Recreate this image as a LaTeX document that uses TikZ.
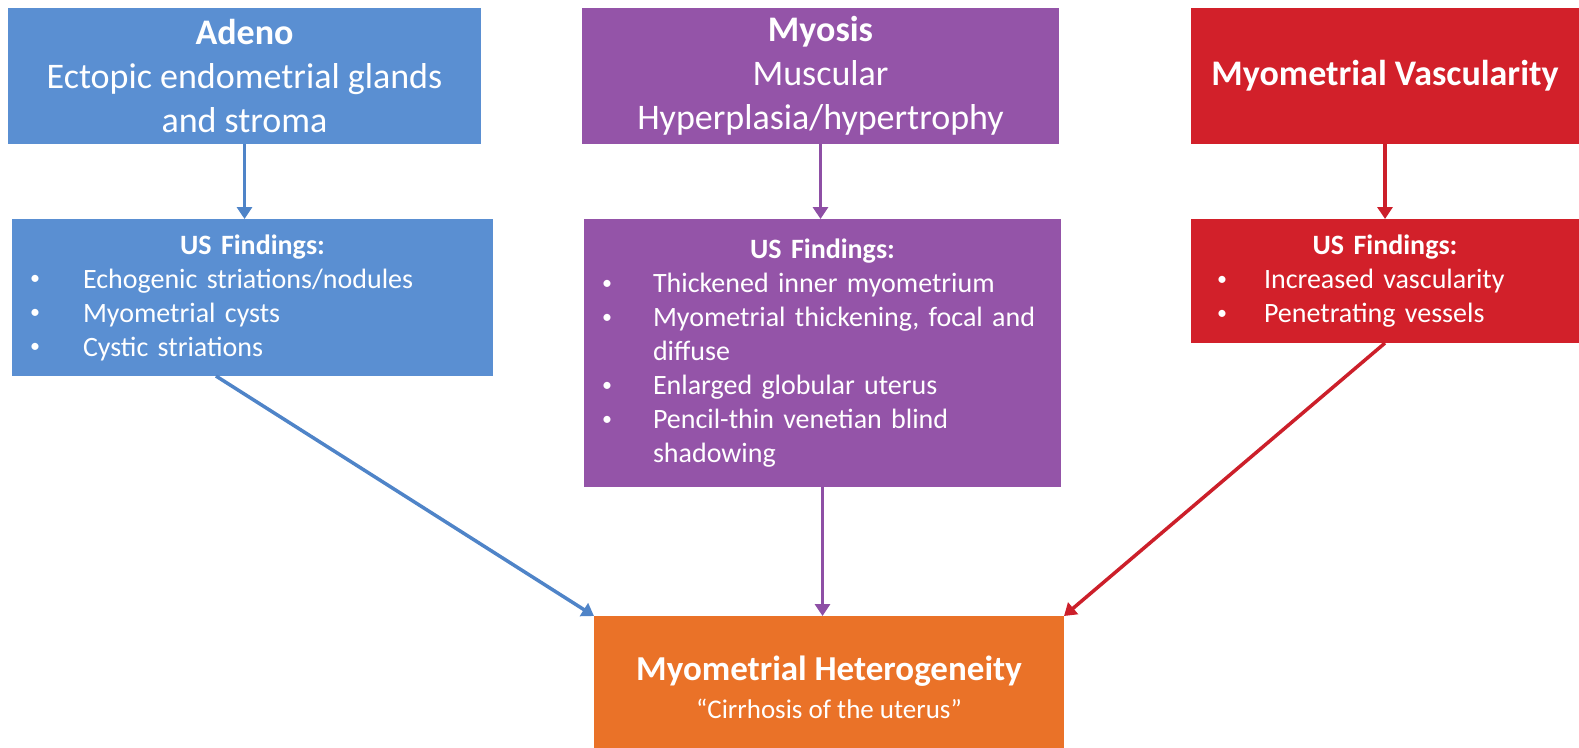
\documentclass[tikz,border=0pt]{standalone}
\usepackage{fontspec}
\setmainfont{Carlito}
\usetikzlibrary{arrows.meta,calc}
\definecolor{cblue}{HTML}{5A8FD2}
\definecolor{cpurple}{HTML}{9454A8}
\definecolor{cred}{HTML}{D2202A}
\definecolor{corange}{HTML}{EA7228}
\definecolor{ablue}{HTML}{4F84C8}
\definecolor{apurple}{HTML}{8E4FA5}
\definecolor{ared}{HTML}{CC1F2A}
\newcommand\bul[3]{\hspace*{#1}\makebox[#2][l]{\raisebox{0.12em}{\fontsize{20}{20}\selectfont\textbullet}}#3}
\begin{document}
\begin{tikzpicture}[x=1pt,y=-1pt,
  box/.style={rectangle, inner sep=0pt, outer sep=0pt, anchor=north west, text=white},
  headbox/.style={box, align=center, font=\fontsize{36}{44}\selectfont},
  findbox/.style={box, align=left, font=\fontsize{28}{34}\selectfont},
  arr/.style={-{Triangle[width=15pt,length=12pt]}, line width=3.5pt}]
\useasboundingbox (0,0) rectangle (1579,747);
\clip (0,0) rectangle (1579,747);
\fill[white] (0,0) rectangle (1579,747);
% top boxes
\node[headbox, fill=cblue, minimum width=473pt, minimum height=136pt] (A1) at (8,8)
  {\textbf{Adeno}\\Ectopic endometrial glands\\and stroma};
\node[headbox, fill=cpurple, minimum width=477pt, minimum height=136pt] (M1) at (582,8)
  {\textbf{Myosis}\\Muscular\\Hyperplasia/hypertrophy};
\node[headbox, fill=cred, minimum width=388pt, minimum height=136pt] (V1) at (1191,8)
  {\textbf{Myometrial Vascularity}};
% findings boxes
\node[findbox, fill=cblue, text width=481pt, minimum height=157pt] (A2) at (12,219)
  {\makebox[481pt]{\textbf{US Findings:}}\\
   \bul{18pt}{53pt}{Echogenic striations/nodules}\\
   \bul{18pt}{53pt}{Myometrial cysts}\\
   \bul{18pt}{53pt}{Cystic striations}};
\node[findbox, fill=cpurple, text width=477pt, minimum height=268pt] (M2) at (584,219)
  {\makebox[477pt]{\textbf{US Findings:}}\\
   \bul{18pt}{51pt}{Thickened inner myometrium}\\
   \bul{18pt}{51pt}{Myometrial thickening, focal and}\\
   \hspace*{69pt}diffuse\\
   \bul{18pt}{51pt}{Enlarged globular uterus}\\
   \bul{18pt}{51pt}{Pencil-thin venetian blind}\\
   \hspace*{69pt}shadowing};
\node[findbox, fill=cred, text width=388pt, minimum height=124pt] (V2) at (1191,219)
  {\makebox[388pt]{\textbf{US Findings:}}\\
   \bul{26pt}{47pt}{Increased vascularity}\\
   \bul{26pt}{47pt}{Penetrating vessels}};
% bottom box
\node[box, fill=corange, align=center, minimum width=470pt, minimum height=142pt,
  font=\fontsize{27}{38}\selectfont] (H) at (594,616)
  {{\fontsize{35}{38}\selectfont\textbf{Myometrial Heterogeneity}}\\“Cirrhosis of the uterus”};
% arrows
\draw[arr, ablue] (A1.south) -- (A1.south |- A2.north);
\draw[arr, apurple] (M1.south) -- (M1.south |- M2.north);
\draw[arr, ared] (V1.south) -- (V1.south |- V2.north);
\draw[arr, ablue] ($(A2.south west)!0.424!(A2.south east)$) -- (H.north west);
\draw[arr, apurple] (M2.south) -- (M2.south |- H.north);
\draw[arr, ared] (V2.south) -- (H.north east);
\end{tikzpicture}
\end{document}
